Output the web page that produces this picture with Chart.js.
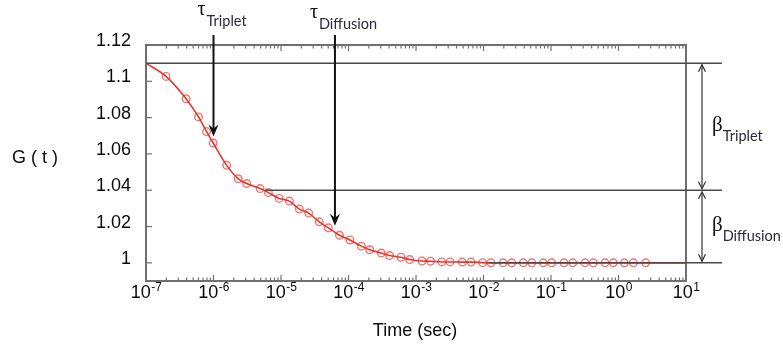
<!DOCTYPE html>
<html><head><meta charset="utf-8">
<script src="https://cdn.jsdelivr.net/npm/chart.js@4"></script>
<style>html,body{margin:0;padding:0;background:#fff;}#wrap{width:783px;height:350px;position:relative;}canvas{display:block;}</style>
</head><body><div id="wrap"><canvas id="c" width="783" height="350"></canvas></div>
<script>
// ---- data ----
const timesSec = [1.98e-7, 3.92e-7, 6.0e-7, 7.9e-7, 9.9e-7, 1.57e-6, 2.33e-6, 3.1e-6, 4.9e-6, 6.5e-6,
  9.4e-6, 1.33e-5, 1.87e-5, 2.57e-5, 3.69e-5, 5.02e-5, 7.36e-5, 1.05e-4, 1.55e-4, 2.06e-4,
  3.06e-4, 4.07e-4, 6.0e-4, 8.07e-4, 1.23e-3, 1.64e-3, 2.40e-3, 3.19e-3, 4.85e-3, 6.53e-3,
  9.72e-3, 1.29e-2, 1.96e-2, 2.62e-2, 3.89e-2, 5.18e-2, 7.69e-2, 0.102, 0.156, 0.210,
  0.319, 0.424, 0.631, 0.838, 1.22, 1.66, 2.53];
const gValues = [1.1027, 1.0904, 1.0804, 1.0723, 1.0660, 1.0537, 1.0463, 1.0437, 1.0409, 1.0387,
  1.0355, 1.0340, 1.0296, 1.0274, 1.0226, 1.0193, 1.0152, 1.0126, 1.0092, 1.0072,
  1.0054, 1.0040, 1.0031, 1.0018, 1.0010, 1.0009, 1.0005, 1.0005, 1.0004, 1.0004,
  1.0001, 1.0, 1.0, 1.0, 1.0, 1.0, 1.0, 1.0, 1.0, 1.0,
  1.0, 1.0, 1.0, 1.0, 1.0, 1.0, 1.0];
const fitTimes = [1e-7].concat(timesSec, [10]);
const fitValues = [1.11].concat(gValues, [1.0]);
const xTickExponents = [-7, -6, -5, -4, -3, -2, -1, 0, 1];
const yTickValues = [1.0, 1.02, 1.04, 1.06, 1.08, 1.1, 1.12];
const yTickLabels = ['1', '1.02', '1.04', '1.06', '1.08', '1.1', '1.12'];
const tauNames = ['Triplet', 'Diffusion'];
const tauTimes = [1e-6, 6.3e-5];
const tauTipValues = [1.0696, 1.0204];
const levelValues = [1.11, 1.04, 1.0];
const levelStartTimes = [1e-7, 5.8e-6, 1.2e-2];
const betaNames = ['Triplet', 'Diffusion'];

const SANS = '"Liberation Sans", Arial, sans-serif';

function ln(ctx, x1, y1, x2, y2) { ctx.beginPath(); ctx.moveTo(x1, y1); ctx.lineTo(x2, y2); ctx.stroke(); }

const overlay = {
  id: 'overlay',
  afterDatasetsDraw(chart) {
    const { ctx, chartArea: a, scales: { x, y } } = chart;
    ctx.save();
    ctx.strokeStyle = '#707070'; ctx.lineWidth = 2;
    ctx.strokeRect(a.left, a.top, a.right - a.left, a.bottom - a.top);
    ctx.lineWidth = 1.2; ctx.strokeStyle = '#707070';
    const lastE = xTickExponents[xTickExponents.length - 1];
    xTickExponents.forEach(e => {
      const v = Math.pow(10, e);
      const p = x.getPixelForValue(v);
      ln(ctx, p, a.bottom, p, a.bottom - 6); ln(ctx, p, a.top, p, a.top + 6);
      if (e < lastE) for (let k = 2; k < 10; k++) {
        const q = x.getPixelForValue(k * v);
        ln(ctx, q, a.bottom, q, a.bottom - 3.5); ln(ctx, q, a.top, q, a.top + 3.5);
      }
    });
    yTickValues.forEach(v => { const p = y.getPixelForValue(v); ln(ctx, a.left, p, a.left + 6, p); });

    const xEnd = a.right + 36;
    ctx.strokeStyle = '#4a4a4a'; ctx.lineWidth = 1.5;
    levelValues.forEach((v, i) => {
      const p = y.getPixelForValue(v);
      ln(ctx, x.getPixelForValue(levelStartTimes[i]), p, xEnd, p);
    });

    const bx = a.right + 16;
    ctx.strokeStyle = '#333'; ctx.lineWidth = 1.2;
    for (let i = 0; i < 2; i++) {
      const y1 = y.getPixelForValue(levelValues[i]) + 1.5, y2 = y.getPixelForValue(levelValues[i + 1]) - 1.5;
      ln(ctx, bx, y1, bx, y2);
      ctx.beginPath(); ctx.moveTo(bx - 3.5, y1 + 7); ctx.lineTo(bx, y1); ctx.lineTo(bx + 3.5, y1 + 7); ctx.stroke();
      ctx.beginPath(); ctx.moveTo(bx - 3.5, y2 - 7); ctx.lineTo(bx, y2); ctx.lineTo(bx + 3.5, y2 - 7); ctx.stroke();
    }

    ctx.strokeStyle = '#111'; ctx.fillStyle = '#111'; ctx.lineWidth = 2;
    tauTimes.forEach((t, i) => {
      const px = x.getPixelForValue(t);
      const tip = y.getPixelForValue(tauTipValues[i]);
      ln(ctx, px, a.top - 10, px, tip - 6);
      ctx.beginPath();
      ctx.moveTo(px, tip); ctx.lineTo(px - 5, tip - 12); ctx.lineTo(px, tip - 8); ctx.lineTo(px + 5, tip - 12);
      ctx.closePath(); ctx.fill();
    });
    ctx.restore();
  },
  afterDraw(chart) {
    const { ctx, chartArea: a, scales: { x, y } } = chart;
    ctx.save();
    ctx.fillStyle = '#0a0a0a';
    ctx.font = '18px ' + SANS; ctx.textAlign = 'right'; ctx.textBaseline = 'middle';
    yTickValues.forEach((v, i) => ctx.fillText(yTickLabels[i], a.left - 15, y.getPixelForValue(v) - 4));
    ctx.textAlign = 'left'; ctx.textBaseline = 'alphabetic';
    xTickExponents.forEach(e => {
      const p = x.getPixelForValue(Math.pow(10, e));
      const base = '10', sup = String(e);
      ctx.font = '18px ' + SANS; const w1 = ctx.measureText(base).width;
      ctx.font = '12px ' + SANS; const w2 = ctx.measureText(sup).width;
      const sx = p - (w1 + w2) / 2;
      ctx.font = '18px ' + SANS; ctx.fillText(base, sx, a.bottom + 17);
      ctx.font = '12px ' + SANS; ctx.fillText(sup, sx + w1 + 0.5, a.bottom + 10);
    });
    ctx.font = '18px ' + SANS; ctx.textAlign = 'left'; ctx.textBaseline = 'middle';
    ctx.fillText('G ( t )', 12, 158);
    ctx.textAlign = 'center'; ctx.textBaseline = 'alphabetic';
    ctx.fillText('Time (sec)', 415, 336);

    const tauDx = [-16, -25], tauBase = [15, 18];
    tauTimes.forEach((t, i) => {
      const px = x.getPixelForValue(t);
      ctx.textAlign = 'left';
      ctx.fillStyle = '#111'; ctx.font = '20px "Liberation Serif", "DejaVu Serif", serif';
      ctx.fillText('\u03C4', px + tauDx[i], tauBase[i]);
      const tw = ctx.measureText('\u03C4').width;
      ctx.fillStyle = '#2a2a3a'; ctx.font = '14.5px Lato, "Open Sans", sans-serif';
      ctx.fillText(tauNames[i], px + tauDx[i] + tw + 1, tauBase[i] + 11);
    });
    const bx = a.right + 26;
    betaNames.forEach((nm, i) => {
      const mid = (y.getPixelForValue(levelValues[i]) + y.getPixelForValue(levelValues[i + 1])) / 2;
      ctx.fillStyle = '#111'; ctx.font = '21px "Liberation Serif", "DejaVu Serif", serif';
      ctx.textAlign = 'left';
      ctx.fillText('\u03B2', bx, mid + 4);
      const bw = ctx.measureText('\u03B2').width;
      ctx.fillStyle = '#2a2a3a'; ctx.font = '14.5px Lato, "Open Sans", sans-serif';
      ctx.fillText(nm, bx + bw, mid + 14);
    });
    ctx.restore();
  }
};

new Chart(document.getElementById('c'), {
  type: 'scatter',
  data: {
    datasets: [
      {
        label: 'fit',
        data: fitTimes.map((t, i) => ({ x: t, y: fitValues[i] })),
        showLine: true, pointRadius: 0, borderColor: '#e8352c', borderWidth: 1.6,
        cubicInterpolationMode: 'monotone', fill: false
      },
      {
        label: 'G(t)',
        data: timesSec.map((t, i) => ({ x: t, y: gValues[i] })),
        showLine: false, pointRadius: 3.8, pointBorderWidth: 1.4,
        pointBorderColor: 'rgba(232,60,55,0.7)', pointBackgroundColor: 'rgba(0,0,0,0)'
      }
    ]
  },
  options: {
    responsive: false, animation: false, devicePixelRatio: 1,
    layout: { padding: { top: 45, right: 97, left: 0, bottom: 0 } },
    plugins: { legend: { display: false }, tooltip: { enabled: false } },
    scales: {
      x: {
        type: 'logarithmic', min: 1e-7, max: 10,
        ticks: { display: false }, grid: { display: false }, border: { display: false },
        afterFit(s) { s.height = 69; }
      },
      y: {
        type: 'linear', min: 0.99, max: 1.12,
        ticks: { display: false }, grid: { display: false }, border: { display: false },
        afterFit(s) { s.width = 146; }
      }
    }
  },
  plugins: [overlay]
});
</script>
</body></html>
